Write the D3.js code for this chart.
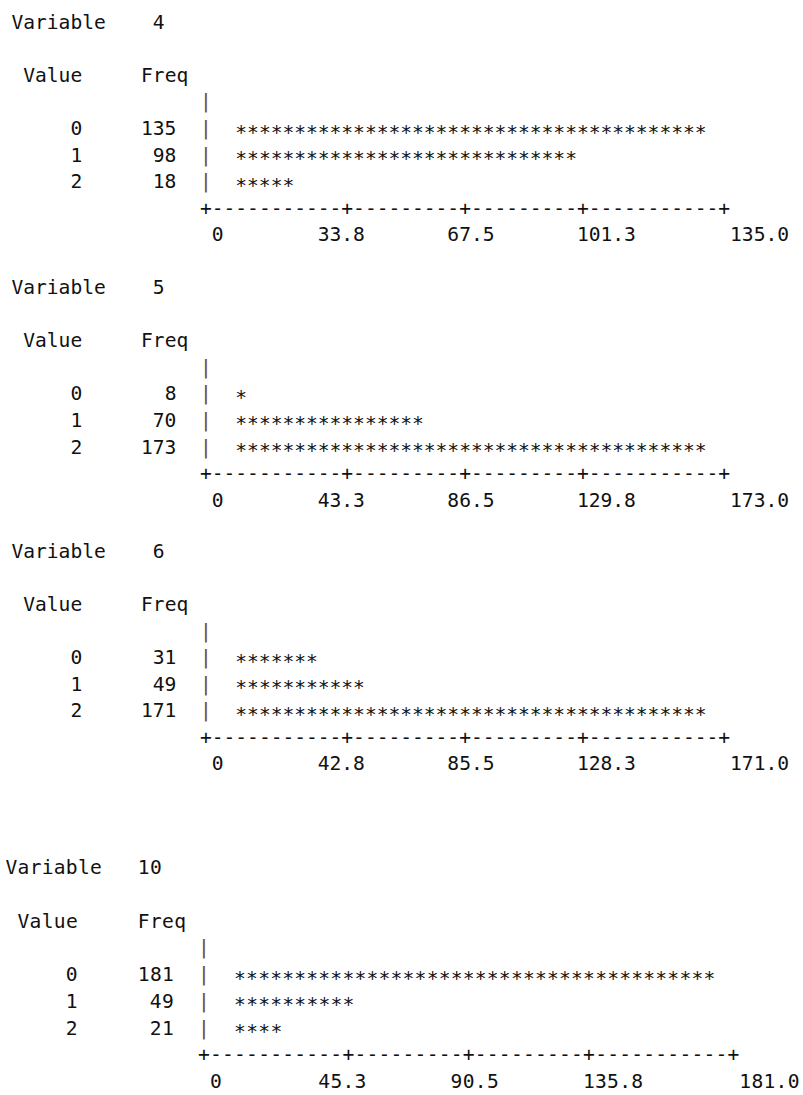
<!DOCTYPE html>
<html>
<head>
<meta charset="utf-8">
<script src="https://cdn.jsdelivr.net/npm/d3@7/dist/d3.min.js"></script>
<style>
  html, body { margin: 0; padding: 0; background: #ffffff; }
  svg { display: block; }
  text { font-family: "DejaVu Sans Mono", "Liberation Mono", monospace; fill: #111; }
</style>
</head>
<body>
<div id="chart"></div>
<script>
// ---------------- data ----------------
const variableNames = ["4", "5", "6", "10"];
const valueLabels = ["0", "1", "2"];
const freq4 = [135, 98, 18];
const freq5 = [8, 70, 173];
const freq6 = [31, 49, 171];
const freq10 = [181, 49, 21];
const ticks4 = ["0", "33.8", "67.5", "101.3", "135.0"];
const ticks5 = ["0", "43.3", "86.5", "129.8", "173.0"];
const ticks6 = ["0", "42.8", "85.5", "128.3", "171.0"];
const ticks10 = ["0", "45.3", "90.5", "135.8", "181.0"];

const seriesFreq = [freq4, freq5, freq6, freq10];
const seriesTicks = [ticks4, ticks5, ticks6, ticks10];

// ---------------- layout (character grid) ----------------
const W = 803, H = 1095;
const panels = [
  { origin: 11.5, cw: 11.78, top: 28.8, lh: 26.55 },
  { origin: 11.5, cw: 11.78, top: 294.2, lh: 26.55 },
  { origin: 11.5, cw: 11.78, top: 558.0, lh: 26.55 },
  { origin: 5.5,  cw: 12.03, top: 874.0, lh: 26.75 }
];
const fontSize = 19.6;
const col = { title: 0, titleNumEnd: 12, valueHdr: 1, freqHdr: 11, value: 5, freqEnd: 13, pipe: 16, bar: 19, axis: 16 };
const barMaxChars = 40;
const axisTickCols = [0, 12, 22, 32, 44];
const labelCols = [17, 26, 37, 48, 61];
const starDy = 3.5;

const svg = d3.select("#chart").append("svg")
  .attr("width", W).attr("height", H)
  .attr("viewBox", `0 0 ${W} ${H}`);
svg.append("rect").attr("width", W).attr("height", H).attr("fill", "#ffffff");

panels.forEach((p, i) => {
  const freqs = seriesFreq[i];
  const ticks = seriesTicks[i];
  const x = d3.scaleLinear().domain([0, 1]).range([p.origin, p.origin + p.cw]); // column -> px
  const y = d3.scaleLinear().domain([0, 1]).range([p.top, p.top + p.lh]);       // line -> baseline
  const rowLine = d3.scaleBand().domain(valueLabels).range([4, 7]);             // value -> line index
  const maxF = d3.max(freqs);
  const barScale = d3.scaleLinear().domain([0, maxF]).range([0, barMaxChars]);

  const g = svg.append("g").attr("font-size", fontSize);

  function put(str, c, line, opts = {}) {
    const t = g.append("text")
      .attr("x", x(c))
      .attr("y", y(line) + (opts.dy || 0))
      .text(str);
    if (str.length > 1) t.attr("textLength", str.length * p.cw).attr("lengthAdjust", "spacing");
    if (opts.fill) t.style("fill", opts.fill);
    return t;
  }

  // title
  put("Variable", col.title, 0);
  const vn = variableNames[i];
  put(vn, col.titleNumEnd - vn.length + 1, 0);

  // header
  put("Value", col.valueHdr, 2);
  put("Freq", col.freqHdr, 2);

  // vertical rule
  d3.range(3, 7).forEach(l => put("|", col.pipe, l, { fill: "#6b4a2a" }));

  // rows
  valueLabels.forEach((v, k) => {
    const line = rowLine(v);
    const f = String(freqs[k]);
    put(v, col.value, line);
    put(f, col.freqEnd - f.length + 1, line);
    const n = Math.floor(barScale(freqs[k]) + 1e-9);
    if (n > 0) put("*".repeat(n), col.bar, line, { dy: starDy });
  });

  // axis line
  const axisLen = d3.max(axisTickCols) + 1;
  const axisStr = d3.range(axisLen).map(c => axisTickCols.includes(c) ? "+" : "-").join("");
  put(axisStr, col.axis, 7);

  // tick labels
  ticks.forEach((t, k) => put(t, labelCols[k], 8));
});
</script>
</body>
</html>
